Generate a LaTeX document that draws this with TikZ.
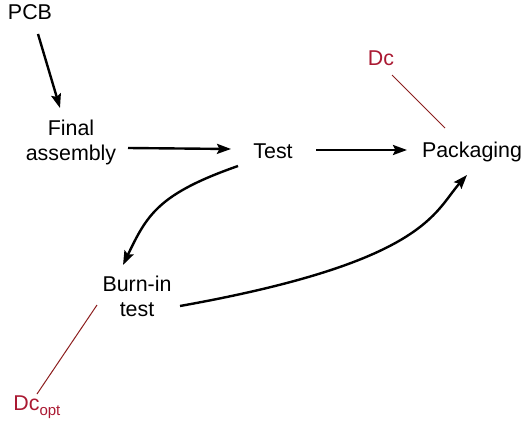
\documentclass[tikz,border=0pt]{standalone}
\usepackage{fontspec}
\setmainfont{Liberation Sans}
\usetikzlibrary{arrows.meta,calc}
\definecolor{dctext}{RGB}{170,25,50}
\definecolor{dcline}{RGB}{140,30,30}
\begin{document}
\begin{tikzpicture}[x=0.5pt,y=-0.5pt,
  lbl/.style={font=\fontsize{10.7}{12.5}\selectfont, inner sep=0pt, align=center},
  arr/.style={line width=1.2pt, -{Stealth[length=7pt,width=5pt,inset=1.2pt]}},
  tie/.style={draw=dcline, line width=0.5pt}]
\useasboundingbox (0,0) rectangle (523,422);

% process steps
\node[lbl, anchor=base] (pcb) at (30,20) {PCB};
\node[lbl] (final) at (71,142) {Final\\assembly};
\node[lbl, anchor=base] (test) at (273,159) {Test};
\node[lbl, anchor=base] (pack) at (472,157) {Packaging};
\node[lbl] (burn) at (137,296) {Burn-in\\test};

% defect coverage labels
\node[lbl, anchor=base, text=dctext] (dc) at (381,66) {Dc};
\node[lbl, anchor=base west, text=dctext] (dcopt) at (13,410)
  {Dc\raisebox{-2.5pt}{\fontsize{7.5}{8}\selectfont opt}};

% flow
\draw[arr] ($(pcb.base)+(8,14)$) -- ($(final.center)+(-11,-34)$);
\draw[arr] ($(final.center)+(57,6)$) -- ($(test.base)+(-42,-10)$);
\draw[arr] ($(test.base)+(43,-9)$) -- ($(pack.base)+(-65,-7)$);
\draw[arr] ($(test.base)+(-35,7)$)
  .. controls +(-80,28) and +(24,-50) .. ($(burn.center)+(-14,-31)$);
\draw[arr] ($(burn.center)+(43,10)$)
  .. controls +(246,-44) and +(-33,37) .. ($(pack.base)+(-5,18)$);

% coverage ties
\draw[tie] ($(dc.base)+(11,9)$) -- ($(pack.base)+(-27,-29)$);
\draw[tie] ($(burn.center)+(-40,9)$) -- ($(dcopt.base west)+(24,-16)$);
\end{tikzpicture}
\end{document}
